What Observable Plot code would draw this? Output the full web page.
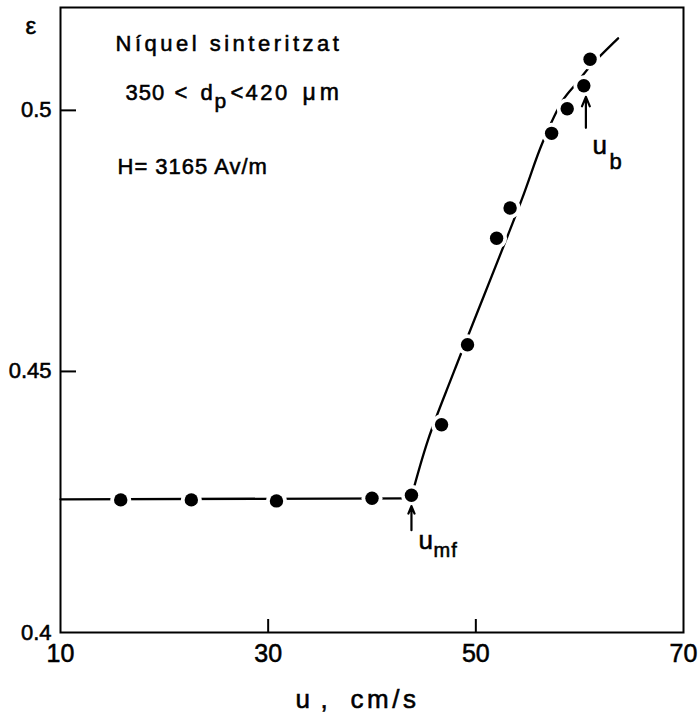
<!DOCTYPE html>
<html><head><meta charset="utf-8">
<script src="https://cdn.jsdelivr.net/npm/d3@7"></script>
<script src="https://cdn.jsdelivr.net/npm/@observablehq/plot@0.6"></script>
<style>
body{margin:0;background:#fff;}
svg text{stroke:black;stroke-width:0.55px;}
g[aria-description="note"] text{letter-spacing:3.5px;}
g[aria-description="tight"] text{letter-spacing:1px;}
g[aria-description="wide"] text{letter-spacing:2.5px;}
g[aria-description="wider"] text{letter-spacing:4px;}
</style></head><body><div id="chart"></div>
<script>
// measured points (u in cm/s, porosity ε)
const uMeasured   = [15.8, 22.6, 30.8, 40.0, 43.8, 46.7, 49.2, 52.0, 53.3, 57.3, 58.8, 60.4, 61.0];
const epsMeasured = [0.4254, 0.4254, 0.4252, 0.4257, 0.4263, 0.4398, 0.4551, 0.4755, 0.4813, 0.4956, 0.5003, 0.5047, 0.5098];
// hand-drawn fitted curve
const uFit   = [10, 43.8, 43.8, 45.4, 47.9, 54.4, 56.4, 58.4, 59.7, 61.0, 63.7];
const epsFit = [0.4255, 0.4257, 0.4260, 0.4369, 0.4500, 0.4828, 0.4937, 0.5020, 0.5052, 0.5084, 0.5138];
const segFit = ["fixed", "fixed", "fluid", "fluid", "fluid", "fluid", "fluid", "fluid", "fluid", "fluid", "fluid"];
// characteristic velocities
const markerNames = ["mf", "b"];
const markerU     = [43.8, 60.6];
const markerEps   = [0.4263, 0.5047];
// axes
const xTicks = [10, 30, 50, 70];
const yTicks = [0.4, 0.45, 0.5];
const xInnerTicks = [30, 50];
const yInnerTicks = [0.45, 0.5];

const points = uMeasured.map((u, i) => ({u, eps: epsMeasured[i]}));
const fit = uFit.map((u, i) => ({u, eps: epsFit[i], seg: segFit[i]}));
const markers = markerNames.map((name, i) => ({name, u: markerU[i], eps: markerEps[i]}));

const px = 1 / 5220; // one pixel in ε units (for arrow offsets)

function piece(t, dx, dy, size, desc = "note") {
  return Plot.text([t], {text: d => d, frameAnchor: "top-left", dx, dy, fontSize: size,
    textAnchor: "start", lineAnchor: "bottom", fill: "black", ariaDescription: desc});
}

const chart = Plot.plot({
  width: 698, height: 714,
  marginLeft: 60, marginRight: 15, marginTop: 7, marginBottom: 82,
  x: {domain: [10, 70]},
  y: {domain: [0.4, 0.5197]},
  style: {fontFamily: "'Liberation Sans', Arial, sans-serif", color: "black", background: "white"},
  marks: [
    Plot.frame({stroke: "black", strokeWidth: 2}),
    Plot.tickY(yInnerTicks, {y: d => d, insetRight: 607, stroke: "black", strokeWidth: 2}),
    Plot.tickX(xInnerTicks, {x: d => d, insetTop: 612, stroke: "black", strokeWidth: 2}),
    Plot.axisX({ticks: xTicks, tickSize: 0, tickPadding: 12, fontSize: 25, label: null, tickFormat: d => String(d)}),
    Plot.axisY({ticks: yTicks, tickSize: 0, tickPadding: 9, fontSize: 22, label: null, tickFormat: d => String(d)}),
    Plot.line(fit, {x: "u", y: "eps", z: "seg", curve: "catmull-rom", stroke: "black", strokeWidth: 2.3}),
    Plot.dot(points, {x: "u", y: "eps", r: 10.5, fill: "white", stroke: "none"}),
    Plot.dot(points, {x: "u", y: "eps", r: 6.7, fill: "black", stroke: "none"}),
    Plot.arrow(markers, {x1: "u", x2: "u",
      y1: d => d.eps - (d.name === "b" ? 42 : 35) * px,
      y2: d => d.eps - 11 * px,
      stroke: "black", strokeWidth: 2.2, headLength: 7, headAngle: 45}),
    // axis titles
    piece("ε", -35, 26, 24),
    piece("u", 235, 700, 26),
    piece(",", 260, 700, 26),
    piece("cm/s", 290, 700, 26),
    // legend text
    piece("Níquel sinteritzat", 55, 43, 22),
    piece("350", 65, 92, 22, "tight"),
    piece("<", 114, 92, 22, "tight"),
    piece("d", 140, 92, 22, "tight"),
    piece("p", 154, 100, 21, "tight"),
    piece("<", 170, 92, 22, "tight"),
    piece("420", 185, 92, 22, "wide"),
    piece("μm", 242, 92, 23, "wider"),
    piece("H= 3165 Av/m", 57, 166, 22, "tight"),
    // velocity labels
    piece("u", 358, 541, 26, "tight"),
    piece("mf", 373, 549, 20, "tight"),
    piece("u", 532, 146, 26, "tight"),
    piece("b", 549, 161, 22, "tight")
  ]
});
document.getElementById("chart").appendChild(chart);
</script></body></html>
